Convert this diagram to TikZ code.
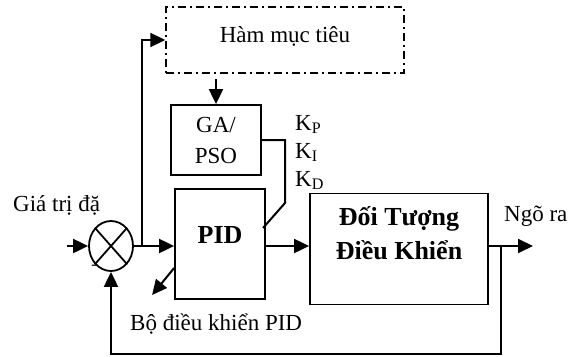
\documentclass[tikz,border=0pt]{standalone}
\usepackage{fontspec}
\setmainfont{Liberation Serif}
\usetikzlibrary{shapes.geometric, arrows.meta, positioning, calc}

\begin{document}
\begin{tikzpicture}[x=1pt, y=-1pt,
				% Define styles
				block/.style={rectangle, draw=black, line width=1.8pt, fill=white, align=center, inner sep=0pt},
				objbox/.style={rectangle, draw=black, line width=1.4pt, dash pattern=on 8pt off 4pt on 2pt off 4pt, minimum width=238pt, minimum height=66pt},
				sumnode/.style={ellipse, draw=black, line width=1.8pt, fill=white, minimum width=44pt, minimum height=50pt, inner sep=0pt},
				sigline/.style={line width=2pt},
				sigarrow/.style={line width=2pt, -{Triangle[length=15pt, width=14pt]}},
				tuneline/.style={line width=2pt},
				txt/.style={font=\fontsize{23}{31}\selectfont, inner sep=0pt},
				boldtxt/.style={font=\fontsize{26}{34}\selectfont\bfseries}
				]
				\useasboundingbox (0,0) rectangle (580,356);
				
				% Objective function block
				\node[objbox] (obj) at (285,40) {};
				\node[txt, anchor=base] (objtext) at (285,42) {Hàm mục tiêu};
				
				% Optimiser and controller
				\node[block, txt, minimum width=90pt, minimum height=70pt] (gapso) at (216,140) {GA/\\PSO};
				\node[block, boldtxt, minimum width=90pt, minimum height=110pt, text depth=18pt] (pid) at (220,244) {PID};
				
				% Summing junction
				\node[sumnode] (sum) at (111,246) {};
				\draw[line width=1.8pt] (sum.north west) -- (sum.south east) (sum.north east) -- (sum.south west);
				\node[txt, font=\fontsize{16}{16}\selectfont] (minus) at (94,267) {-};
				
				% Plant
				\node[block, boldtxt, minimum width=178pt, minimum height=111pt, text depth=32pt] (plant) at (399,249) {Đối Tượng\\Điều Khiển};
				
				% Free ends and branch points
				\coordinate (in) at (67,246);
				\coordinate (split) at (142,246);
				\coordinate (fb) at (501,246);
				\coordinate (out) at (533,246);
				\coordinate (bend) at (285,203);
				\coordinate (tune) at (263,228);
				
				% Main signal path
				\draw[sigarrow] (in) -- (sum.west);
				\draw[sigarrow] (sum.east) -- (sum.east -| pid.west);
				\draw[sigarrow] (pid.east |- sum) -- (plant.west |- sum);
				\draw[sigarrow] (plant.east |- sum) -- (out);
				\draw[sigarrow] (fb) -- ++(0,108) -| (sum.south);
				
				% Tuning loop
				\draw[sigarrow] (split) |- (obj.west);
				\draw[sigarrow, shorten <=5pt] (obj.south -| gapso.north) -- (gapso.north);
				\draw[tuneline] (gapso.east) -| (bend) -- (tune);
				\draw[sigarrow] ([yshift=-24pt]pid.west) -- ++(-22,27);
				
				% Labels
				\node[txt, anchor=base west] (setpoint) at (13,211) {Giá trị đặ};
				\node[txt, anchor=base west] (output) at (504,221) {Ngõ ra};
				\node[txt, anchor=base west] (ctrl) at (130,330) {Bộ điều khiển PID};
				\node[txt, anchor=base west] (kp) at (295,130) {K\textsubscript{P}};
				\node[txt, anchor=base west] (ki) at (295,158) {K\textsubscript{I}};
				\node[txt, anchor=base west] (kd) at (295,186) {K\textsubscript{D}};
				
			\end{tikzpicture}
\end{document}
